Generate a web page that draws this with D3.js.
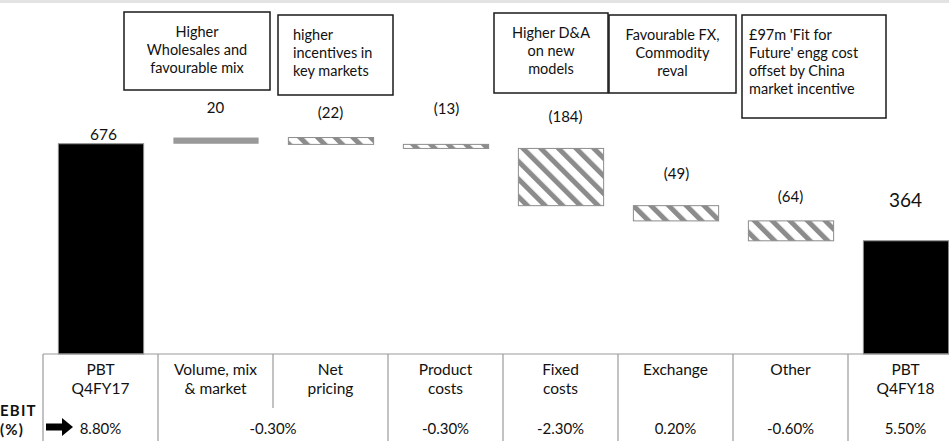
<!DOCTYPE html>
<html>
<head>
<meta charset="utf-8">
<script src="https://cdn.jsdelivr.net/npm/d3@7"></script>
<style>
  html, body { margin: 0; padding: 0; background: #fff; }
  svg { display: block; font-family: Lato, "Open Sans", sans-serif; }
</style>
</head>
<body>
<svg id="chart" width="949" height="441"></svg>
<script>
// ---- data ----
const categories = ["PBT Q4FY17", "Volume, mix & market", "Net pricing", "Product costs",
                    "Fixed costs", "Exchange", "Other", "PBT Q4FY18"];
const categoryLines = [["PBT", "Q4FY17"], ["Volume, mix", "& market"], ["Net", "pricing"],
                       ["Product", "costs"], ["Fixed", "costs"], ["Exchange"], ["Other"], ["PBT", "Q4FY18"]];
const values = [676, 20, -22, -13, -184, -49, -64, 364];
const barKinds = ["total", "up", "down", "down", "down", "down", "down", "total"];
const valueLabels = ["676", "20", "(22)", "(13)", "(184)", "(49)", "(64)", "364"];
const ebitLabels = ["8.80%", "-0.30%", "-0.30%", "-2.30%", "0.20%", "-0.60%", "5.50%"];
const ebitSpans = [1, 2, 1, 1, 1, 1, 1];
const noteTexts = [
  ["Higher", "Wholesales and", "favourable mix"],
  ["higher", "incentives in", "key markets"],
  ["Higher D&A", "on new", "models"],
  ["Favourable FX,", "Commodity", "reval"],
  ["£97m 'Fit for", "Future' engg cost", "offset by China", "market incentive"]
];

// ---- layout ----
const W = 949, H = 441;
const baseY = 354;                 // table top / bar baseline
const labelLift = [10, 31, 26, 36, 32, 33, 25, 41];
const labelShift = [3, 0, 0, 1, 5, 1, 0, 0];
const labelSize = [15.5, 15, 15, 15, 15, 15, 15, 19];
const noteBoxes = [
  { x: 124, y: 12, w: 146, h: 78, align: "middle", pad: 0 },
  { x: 278, y: 15, w: 115, h: 80, align: "start", pad: 15 },
  { x: 494, y: 13, w: 114, h: 80, align: "middle", pad: 0 },
  { x: 609, y: 15, w: 127, h: 78, align: "middle", pad: 0 },
  { x: 742, y: 15, w: 144, h: 103, align: "start", pad: 7 }
];

const svg = d3.select("#chart");

// top grey strip
svg.append("rect").attr("x", 0).attr("y", 0).attr("width", W).attr("height", 3).attr("fill", "#e3e3e3");

// hatch pattern for decreases
const defs = svg.append("defs");
const pat = defs.append("pattern")
  .attr("id", "hatch").attr("patternUnits", "userSpaceOnUse")
  .attr("width", 12.5).attr("height", 12.5)
  .attr("patternTransform", "rotate(-45)");
pat.append("rect").attr("width", 12.5).attr("height", 12.5).attr("fill", "#fff");
pat.append("rect").attr("x", 0).attr("width", 5).attr("height", 12.5).attr("fill", "#8c8c8c");

// scales
const x = d3.scaleBand().domain(categories).range([43, 963]).paddingInner(0.25).paddingOuter(0.125);
const y = d3.scaleLinear().domain([0, 1000]).range([baseY, baseY - 311]);
const step = x.step();
const colLeft = c => x(c) - step * x.paddingOuter();

// waterfall extents
let running = 0;
const bars = categories.map((c, i) => {
  let lo, hi;
  if (barKinds[i] === "total") { lo = 0; hi = values[i]; running = values[i]; }
  else { const s = running; running += values[i]; lo = Math.min(s, running); hi = Math.max(s, running); }
  return { c, i, lo, hi, kind: barKinds[i] };
});

svg.append("g").selectAll("rect").data(bars).join("rect")
  .attr("x", d => x(d.c) + 1)
  .attr("width", x.bandwidth() - 1)
  .attr("y", d => y(d.hi))
  .attr("height", d => Math.max(1, y(d.lo) - y(d.hi)))
  .attr("fill", d => d.kind === "total" ? "#000" : d.kind === "up" ? "#999" : "url(#hatch)")
  .attr("stroke", d => d.kind === "up" ? "none" : "#8c8c8c")
  .attr("stroke-width", 1);

// value labels
svg.append("g").selectAll("text").data(bars).join("text")
  .attr("x", d => x(d.c) + x.bandwidth() / 2 + labelShift[d.i])
  .attr("y", d => y(d.hi) - labelLift[d.i])
  .attr("text-anchor", "middle")
  .attr("dominant-baseline", "central")
  .attr("font-size", d => labelSize[d.i])
  .attr("fill", "#111")
  .text(d => valueLabels[d.i]);

// annotation boxes
const notes = svg.append("g").selectAll("g").data(noteBoxes).join("g");
notes.append("rect")
  .attr("x", d => d.x).attr("y", d => d.y).attr("width", d => d.w).attr("height", d => d.h)
  .attr("fill", "#fff").attr("stroke", "#1a1a1a").attr("stroke-width", 1.5);
notes.each(function (d, k) {
  const g = d3.select(this);
  const tx = d.align === "middle" ? d.x + d.w / 2 : d.x + d.pad;
  noteTexts[k].forEach((line, j) => {
    g.append("text")
      .attr("x", tx).attr("y", d.y + 24.5 + j * 18.3)
      .attr("text-anchor", d.align)
      .attr("font-size", 14.5).attr("fill", "#111")
      .text(line);
  });
});

// table grid
const grid = svg.append("g").attr("stroke", "#9a9a9a").attr("stroke-width", 1.2);
grid.append("line").attr("x1", 43).attr("x2", W).attr("y1", baseY).attr("y2", baseY);
categories.forEach((c, i) => {
  const lx = colLeft(c);
  // the volume / pricing pair share one EBIT cell
  const bottom = i === 2 ? 408 : H;
  grid.append("line").attr("x1", lx).attr("x2", lx).attr("y1", baseY).attr("y2", bottom);
});

// category names
const catG = svg.append("g").attr("font-size", 15.5).attr("fill", "#111").attr("text-anchor", "middle");
categories.forEach((c, i) => {
  const cx = colLeft(c) + step / 2;
  categoryLines[i].forEach((line, j) => {
    catG.append("text").attr("x", cx).attr("y", 375 + j * 18.5).text(line);
  });
});

// EBIT row
let col = 0;
const ebitG = svg.append("g").attr("font-size", 15).attr("fill", "#111").attr("text-anchor", "middle");
ebitLabels.forEach((t, k) => {
  const left = colLeft(categories[col]);
  const cx = left + ebitSpans[k] * step / 2;
  ebitG.append("text").attr("x", cx).attr("y", 434).text(t);
  col += ebitSpans[k];
});

svg.append("text").attr("x", 0).attr("y", 416).attr("font-size", 15).attr("font-weight", "bold")
  .attr("letter-spacing", 1.2).attr("fill", "#111").text("EBIT");
svg.append("text").attr("x", 0).attr("y", 434.5).attr("font-size", 15).attr("font-weight", "bold")
  .attr("letter-spacing", 1.2).attr("fill", "#111").text("(%)");
svg.append("path")
  .attr("d", "M46,423.5 L62,423.5 L62,418 L73,427 L62,436 L62,430.5 L46,430.5 Z")
  .attr("fill", "#000");
</script>
</body>
</html>
